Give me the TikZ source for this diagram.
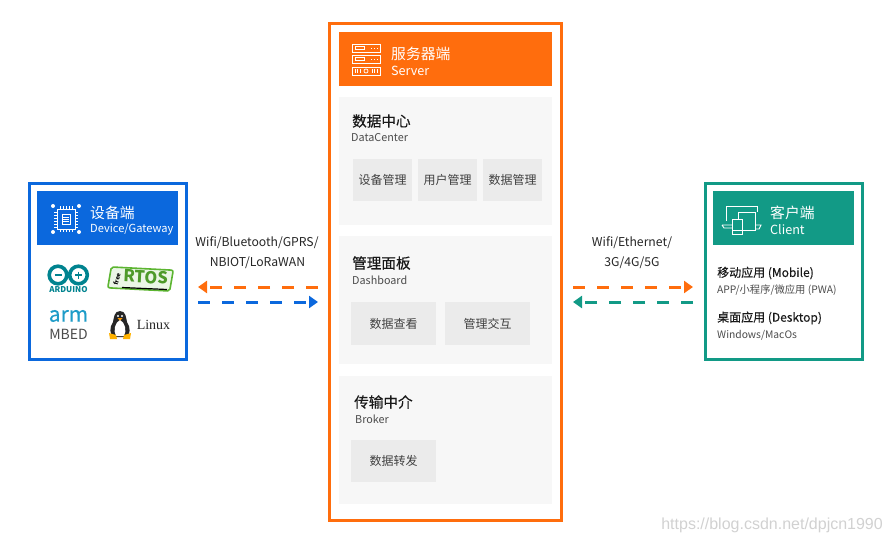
\documentclass[tikz,border=0pt]{standalone}
\usepackage{fontspec}
\setmainfont{Noto Sans CJK SC}
\newfontfamily\medfont[FakeBold=0.3]{Noto Sans CJK SC}
\newfontfamily\markfont{Liberation Sans}
\newfontfamily\tuxfont{Liberation Serif}
\usetikzlibrary{arrows.meta,calc}
\definecolor{devblue}{HTML}{0B68DD}
\definecolor{srvorange}{HTML}{FF6D0D}
\definecolor{clteal}{HTML}{129A86}
\definecolor{panelgray}{HTML}{F7F7F7}
\definecolor{cellgray}{HTML}{EBEBEB}
\definecolor{ardteal}{HTML}{00838F}
\definecolor{armblue}{HTML}{1E9CC8}
\definecolor{rtosgreen}{HTML}{5CB531}
\tikzset{
  frame/.style={draw=#1, line width=3pt, fill=white, inner sep=0pt, outer sep=0pt, anchor=north west},
  head/.style={fill=#1, inner sep=0pt, outer sep=0pt, anchor=north west},
  panel/.style={fill=panelgray, inner sep=0pt, outer sep=0pt, anchor=north west, minimum width=213pt, minimum height=128pt},
  cell/.style={fill=cellgray, inner sep=0pt, outer sep=0pt, text=black!75, font=\fontsize{12}{14}\selectfont},
  title/.style={anchor=west, inner sep=0pt, text=black!90, font=\medfont\fontsize{14.6}{17}\selectfont},
  sub/.style={anchor=west, inner sep=0pt, text=black!70, font=\fontsize{10.8}{13}\selectfont},
  headtitle/.style={anchor=west, inner sep=0pt, text=white, font=\fontsize{14.8}{17}\selectfont},
  headsub/.style={anchor=west, inner sep=0pt, text=white, font=\fontsize{12}{14}\selectfont},
  linktext/.style={inner sep=0pt, text=black!85, font=\fontsize{12.2}{14}\selectfont},
  link/.style={draw=#1, line width=3pt, dash pattern=on 12pt off 12pt, -{Triangle[length=9pt,width=12pt,fill=#1]}},
  icon/.style={draw=white, line width=0.9pt}
}
\begin{document}
\begin{tikzpicture}[x=1pt, y=-1pt]

  \useasboundingbox (0,0) rectangle (891,543);

  % device side
  \node[frame=devblue, minimum width=157pt, minimum height=176pt] (device) at (29.5,183.5) {};
  \node[head=devblue, minimum width=141pt, minimum height=54pt] (devhead) at (37,191) {};
  \node[headtitle] (devtitle) at (90,213) {设备端};
  \node[headsub, font=\fontsize{11.1}{14}\selectfont] (devsub) at (90,229.5) {Device/Gateway};

  % chip icon
  \draw[icon] (57,209) rectangle (75,229);
  \draw[icon] (62,214) rectangle (70,224);
  \foreach \y in {217,219,221} {
    \draw[icon, line width=0.6pt] (63,\y) -- (69,\y);
  }
  \foreach \p in {60,63,66,69,72} {
    \draw[icon, line width=0.6pt] (\p,206) -- (\p,209);
    \draw[icon, line width=0.6pt] (\p,229) -- (\p,232);
  }
  \foreach \p in {212,215,218,221,224,227} {
    \draw[icon, line width=0.6pt] (54,\p) -- (57,\p);
    \draw[icon, line width=0.6pt] (75,\p) -- (78,\p);
  }
  \foreach \a/\b in {53/206,79/206,53/232,79/232} {
    \fill[white] (\a,\b) circle (2pt);
  }

  % arduino logo
  \draw[ardteal, line width=3.6pt] (58,275) circle (8.8pt) (78.5,275) circle (8.8pt);
  \draw[ardteal, line width=1.4pt] (54.5,275) -- (61.5,275) (75,275) -- (82,275) (78.5,271.5) -- (78.5,278.5);
  \node[inner sep=0pt, text=ardteal, font=\fontsize{8}{9}\selectfont\bfseries] (ardtext) at (68.5,290) {ARDUINO};

  % freertos logo
  \node[draw=rtosgreen, fill=rtosgreen!12, line width=1.6pt, rounded corners=2pt, inner sep=0pt,
    minimum width=62pt, minimum height=21pt, rotate=-3, xslant=0.12] (rtos) at (140.5,279) {};
  \node[inner sep=0pt, rotate=-3, text=rtosgreen!85!black, font=\fontsize{16.5}{18}\selectfont\bfseries\itshape] (rtostext) at (146,277) {RTOS};
  \node[inner sep=0pt, rotate=75, text=black, font=\fontsize{6}{7}\selectfont\bfseries] (rtosfree) at (117,279) {free};
  \draw[black, line width=1.2pt] (122,287.5) -- (167,289.5);

  % mbed logo
  \node[inner sep=0pt, text=armblue, font=\medfont\fontsize{21}{22}\selectfont] (armtext) at (68.5,316) {arm};
  \node[inner sep=0pt, text=black!70, font=\fontsize{14}{15}\selectfont] (mbedtext) at (68.5,334) {MBED};

  % penguin
  \fill[black!85] (120,311) .. controls (126,311) and (126,318) .. (127,322) .. controls (131,328) and (130,334) .. (127,337) -- (113,337) .. controls (110,334) and (109,328) .. (113,322) .. controls (114,318) and (114,311) .. (120,311) -- cycle;
  \fill[white] (120,320) .. controls (125,322) and (127,331) .. (124,336) -- (116,336) .. controls (113,331) and (115,322) .. (120,320) -- cycle;
  \fill[white] (118,316) circle (1.2pt) (122,316) circle (1.2pt);
  \fill[orange!80!yellow] (117.5,318) -- (122.5,318) -- (120,320.5) -- cycle;
  \fill[orange!60!yellow] (109,333) -- (116,335) -- (117,339) -- (110,339) -- cycle (131,333) -- (124,335) -- (123,339) -- (130,339) -- cycle;
  \node[inner sep=0pt, text=black!85, font=\tuxfont\fontsize{14}{15}\selectfont] (tuxtext) at (153.5,325) {Linux};

  % server side
  \node[frame=srvorange, minimum width=232pt, minimum height=497pt] (server) at (329.5,23.5) {};
  \node[head=srvorange, minimum width=213pt, minimum height=54pt] (srvhead) at (339,32) {};
  \node[headtitle] (srvtitle) at (391,53.5) {服务器端};
  \node[headsub, font=\fontsize{12.6}{14}\selectfont] (srvsub) at (391,70.5) {Server};

  % rack icon
  \foreach \y in {44,55} {
    \draw[icon] (352,\y) rectangle (380,\y+8);
    \draw[icon, line width=0.7pt] (355,\y+2.5) rectangle (364,\y+5.5);
    \draw[icon, line width=0.9pt, dotted] (371,\y+4) -- (378,\y+4);
  }
  \draw[icon] (352,67) rectangle (380,75);
  \draw[icon, line width=0.7pt] (366,71) circle (2pt);
  \foreach \p in {355,357.5,360,372,374.5,377} {
    \draw[icon, line width=0.6pt] (\p,69) -- (\p,73);
  }

  % panels
  \node[panel] (center) at (339,97) {};
  \node[panel] (board) at (339,236) {};
  \node[panel] (broker) at (339,376) {};

  \node[title] (centertitle) at (352,121) {数据中心};
  \node[sub] (centersub) at (351,137.5) {DataCenter};
  \node[title] (boardtitle) at (352,263) {管理面板};
  \node[sub] (boardsub) at (352,280) {Dashboard};
  \node[title] (brokertitle) at (354,402) {传输中介};
  \node[sub] (brokersub) at (355,419.5) {Broker};

  \foreach \cx/\ctext [count=\n] in {382.5/设备管理, 447.5/用户管理, 512.5/数据管理} {
    \node[cell, minimum width=59pt, minimum height=42pt] (dc\n) at (\cx,180) {\ctext};
  }
  \node[cell, minimum width=85pt, minimum height=43pt] (view) at (393.5,323.5) {数据查看};
  \node[cell, minimum width=85pt, minimum height=43pt] (ctrl) at (487.5,323.5) {管理交互};
  \node[cell, minimum width=85pt, minimum height=42pt] (relay) at (393.5,461) {数据转发};

  % client side
  \node[frame=clteal, minimum width=157pt, minimum height=176pt] (client) at (705.5,183.5) {};
  \node[head=clteal, minimum width=141pt, minimum height=54pt] (clhead) at (713,191) {};
  \node[headtitle] (cltitle) at (770,213) {客户端};
  \node[headsub, font=\fontsize{12.6}{14}\selectfont] (clsub) at (770,230) {Client};

  % screens icon
  \draw[icon] (726,221) -- (726,206) -- (757,206) -- (757,212);
  \draw[icon] (722,225) -- (732,225) (722,225) -- (724,228) -- (732,228);
  \draw[icon, fill=clteal] (738,212) rectangle (755,230);
  \draw[icon] (755,225) -- (761,225) -- (759,229) -- (755,229);
  \draw[icon, fill=clteal] (732,219) rectangle (742,234);
  \draw[icon, line width=0.6pt] (732,230) -- (742,230);

  \node[title, font=\medfont\fontsize{12}{14}\selectfont] (mobile) at (717,273) {移动应用 (Mobile)};
  \node[sub, font=\fontsize{10.3}{12}\selectfont] (mobilesub) at (717,290.5) {APP/小程序/微应用 (PWA)};
  \node[title, font=\medfont\fontsize{12}{14}\selectfont] (desktop) at (717,318) {桌面应用 (Desktop)};
  \node[sub, font=\fontsize{10.3}{12}\selectfont] (desktopsub) at (717,335) {Windows/MacOs};

  % link labels
  \node[linktext] (leftline1) at (257,243) {Wifi/Bluetooth/GPRS/};
  \node[linktext] (leftline2) at (257.5,263) {NBIOT/LoRaWAN};
  \node[linktext] (rightline1) at (632,243) {Wifi/Ethernet/};
  \node[linktext] (rightline2) at (632,263) {3G/4G/5G};

  % link ends
  \coordinate (LA) at (318,287);
  \coordinate (LB) at (198,287);
  \coordinate (LC) at (198,302);
  \coordinate (LD) at (318,302);
  \coordinate (RA) at (573,287);
  \coordinate (RB) at (693,287);
  \coordinate (RC) at (693,302);
  \coordinate (RD) at (573,302);

  \draw[link=srvorange] (LA) -- (LB);
  \draw[link=devblue] (LC) -- (LD);
  \draw[link=srvorange] (RA) -- (RB);
  \draw[link=clteal] (RC) -- (RD);

  % blog mark
  \node[anchor=east, inner sep=0pt, text=black!18, font=\markfont\fontsize{16}{18}\selectfont] (blogmark) at (883,525) {https://blog.csdn.net/dpjcn1990};

\end{tikzpicture}
\end{document}
